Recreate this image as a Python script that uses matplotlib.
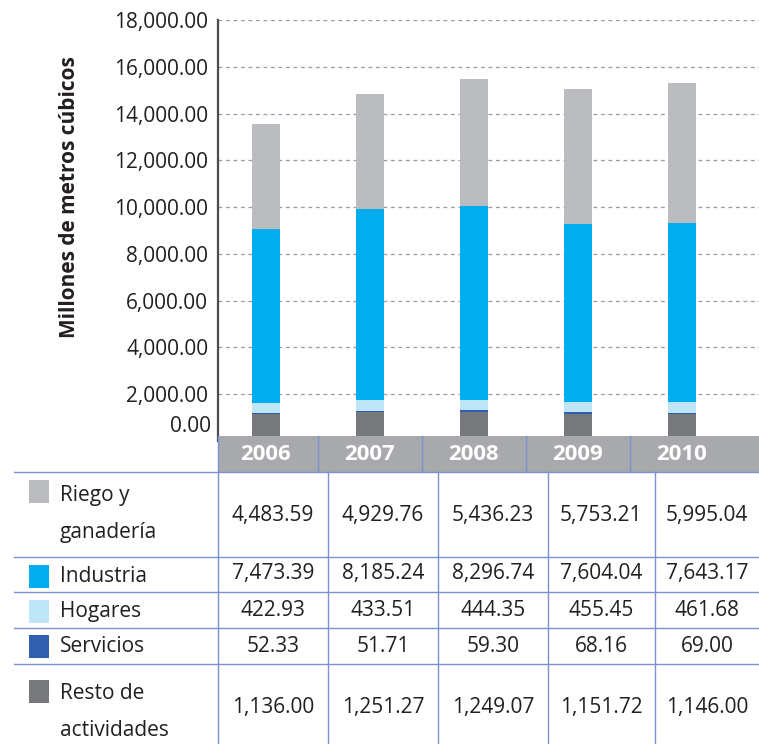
import matplotlib
matplotlib.use("Agg")
import matplotlib.pyplot as plt
from matplotlib.lines import Line2D
from matplotlib.patches import Rectangle
import matplotlib.transforms as mtransforms

plt.rcParams['font.family'] = ['Open Sans', 'DejaVu Sans']

years = ['2006', '2007', '2008', '2009', '2010']
riego = [4483.59, 4929.76, 5436.23, 5753.21, 5995.04]
industria = [7473.39, 8185.24, 8296.74, 7604.04, 7643.17]
hogares = [422.93, 433.51, 444.35, 455.45, 461.68]
servicios = [52.33, 51.71, 59.30, 68.16, 69.00]
resto = [1136.00, 1251.27, 1249.07, 1151.72, 1146.00]
y_ticks = [2000, 4000, 6000, 8000, 10000, 12000, 14000, 16000, 18000]

# stacking order bottom -> top
series = [
    ('Resto de\nactividades', resto, '#77787B'),
    ('Servicios', servicios, '#2F5FAE'),
    ('Hogares', hogares, '#BEE6F8'),
    ('Industria', industria, '#00AEEF'),
    ('Riego y\nganadería', riego, '#BBBCBF'),
]

W, H = 759, 744
TXT = '#231F20'
LINE = '#7B93D0'
HEAD = '#A7A9AC'
FS = 15

fig = plt.figure(figsize=(W / 100, H / 100), dpi=100)


def fx(x):
    return x / W


def fy(y):
    return 1 - y / H


ax_left, ax_right, ax_top, ax_zero = 218, 759, 20, 441
ax = fig.add_axes([fx(ax_left), fy(ax_zero), (ax_right - ax_left) / W, (ax_zero - ax_top) / H])

x = list(range(len(years)))
bottom = [0.0] * len(years)
for name, vals, col in series:
    ax.bar(x, vals, width=0.27, bottom=bottom, color=col, zorder=3)
    bottom = [b + v for b, v in zip(bottom, vals)]

ax.set_xlim(-0.46, 4.74)
ax.set_ylim(0, 18000)
ax.set_yticks(y_ticks)
ax.set_yticklabels([f"{t:,.2f}" for t in y_ticks], fontsize=FS, color=TXT)
ax.tick_params(axis='y', length=0, pad=7)
ax.set_xticks([])
ax.yaxis.grid(True, linestyle=(0, (3, 3)), color='#9A9A9A', linewidth=0.9, zorder=0)
for s in ['top', 'right', 'bottom']:
    ax.spines[s].set_visible(False)
ax.spines['left'].set_color('#4D4D4F')
ax.spines['left'].set_linewidth(1.6)
ax.annotate('0.00', xy=(0, 0), xycoords=('axes fraction', 'data'), xytext=(-7, 14),
            textcoords='offset pixels', ha='right', va='center', fontsize=FS, color=TXT)

fig.text(fx(70), fy(197), 'Millones de metros cúbicos', rotation=90, ha='center', va='center',
         fontsize=FS, fontweight='bold', color=TXT)

# header band with years, aligned with the bar categories
fig.add_artist(Rectangle((fx(218), fy(472)), (759 - 218) / W, 36 / H,
                         transform=fig.transFigure, facecolor=HEAD, edgecolor='none', zorder=5))
trans = mtransforms.blended_transform_factory(ax.transData, fig.transFigure)
for i, yr in enumerate(years):
    fig.text(i, fy(455), yr, transform=trans, ha='center', va='center',
             fontsize=16, fontweight='bold', color='white', zorder=6)
for i in range(len(years) - 1):
    fig.add_artist(Line2D([i + 0.5, i + 0.5], [fy(436), fy(472)], transform=trans,
                          color=LINE, linewidth=1, zorder=6))
fig.add_artist(Line2D([fx(218), fx(218)], [fy(436), fy(472)], color=LINE, linewidth=1, zorder=6))

# data table
row_lines = [472, 557, 592, 628, 664]
for ry in row_lines:
    fig.add_artist(Line2D([fx(14), fx(759)], [fy(ry), fy(ry)], color=LINE, linewidth=1, zorder=6))
col_lines = [218, 328, 438, 548, 655]
for cx in col_lines:
    fig.add_artist(Line2D([fx(cx), fx(cx)], [fy(472), fy(744)], color=LINE, linewidth=1, zorder=6))
col_centers = [273, 383, 493, 601, 707]

# row layout: (value center y, label center y, swatch top y)
row_layout = {
    'Riego y\nganadería': (515, 514, 480),
    'Industria': (574, 576, 565),
    'Hogares': (611, 612, 600),
    'Servicios': (646, 647, 635),
    'Resto de\nactividades': (707, 712, 680),
}
for name, vals, col in reversed(series):
    yv, yl, sq_top = row_layout[name]
    fig.add_artist(Rectangle((fx(29), fy(sq_top + 23)), 20 / W, 23 / H,
                             transform=fig.transFigure, facecolor=col, edgecolor='none'))
    fig.text(fx(60), fy(yl), name, ha='left', va='center',
             fontsize=FS, color=TXT, linespacing=2.05)
    for cx, v in zip(col_centers, vals):
        fig.text(fx(cx), fy(yv), f"{v:,.2f}", ha='center', va='center', fontsize=FS, color=TXT)

fig.savefig('out.png', dpi=100)
